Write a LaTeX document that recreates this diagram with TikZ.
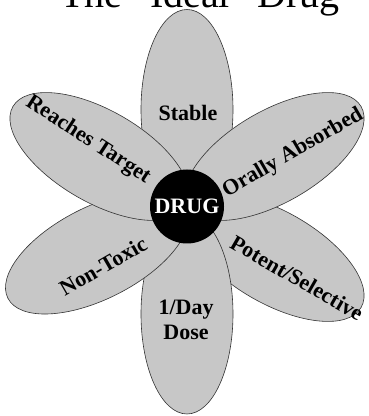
\documentclass[tikz,border=0pt]{standalone}
\usepackage{fontspec}
\setmainfont{Liberation Serif}
\tikzset{
  petal/.style={fill=black!22, draw=black!80, line width=0.6pt},
  lbl/.style={font=\fontsize{22}{25}\selectfont\bfseries, inner sep=1pt}
}
\begin{document}
\begin{tikzpicture}[x=1pt, y=1pt]
  \useasboundingbox (0,0) rectangle (368,416);

  % --- Title (cut off at the top) ---
  \node[font=\fontsize{40}{48}\selectfont, anchor=base] (title) at (200,408) {The “Ideal” Drug};

  % --- Petals, back to front ---
  \foreach \ang/\dist in {90/97.5, 330/101, 270/107, 207/101, 150/101, 30/101}
    \filldraw[petal, rotate around={\ang:(187,209)}]
      (187+\dist,209) ellipse [x radius=100, y radius=46];

  % --- Labels ---
  \node[lbl] (stable) at (188,303) {Stable};
  \node[lbl, align=center] (dose) at (186,96) {1/Day\\Dose};
  \node[lbl, rotate=-33] (target) at (88,276) {Reaches Target};
  \node[lbl, rotate=30] (oral) at (293,263) {Orally Absorbed};
  \node[lbl, rotate=30] (nontoxic) at (103,150) {Non-Toxic};
  \node[lbl, rotate=-30] (potent) at (297,138) {Potent/Selective};

  % --- Centre ---
  \node[circle, fill=black, text=white, minimum size=74pt, inner sep=0pt,
        font=\fontsize{22}{26}\selectfont\bfseries] (drug) at (187,209.5) {DRUG};
\end{tikzpicture}
\end{document}
